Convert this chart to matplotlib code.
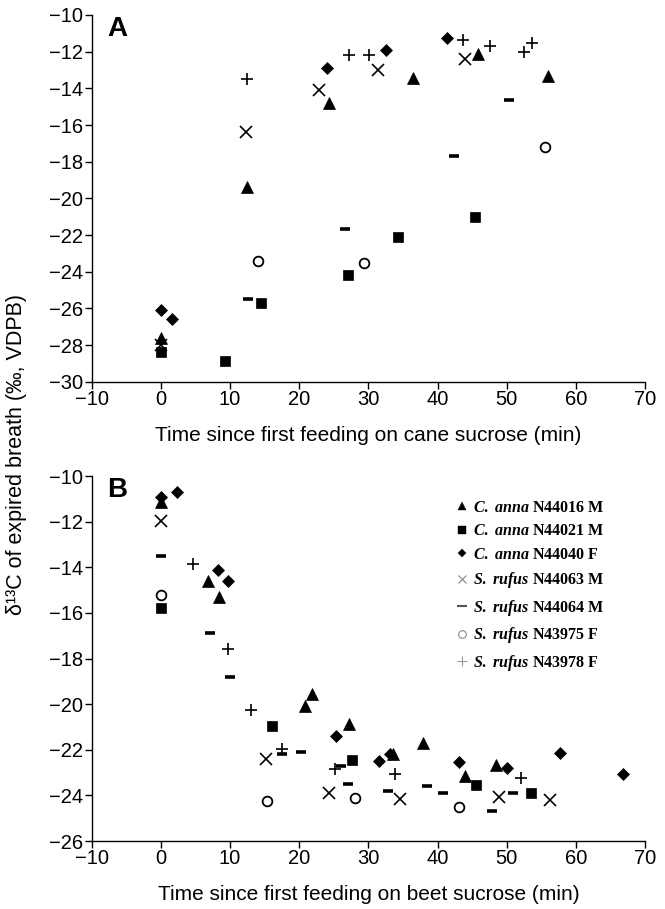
import matplotlib
matplotlib.use('Agg')
import matplotlib.pyplot as plt
from matplotlib.lines import Line2D

plt.rcParams['font.family'] = ['Liberation Sans', 'DejaVu Sans']
plt.rcParams['mathtext.fontset'] = 'custom'
plt.rcParams['mathtext.it'] = 'Liberation Serif:italic:bold'
plt.rcParams['mathtext.rm'] = 'Liberation Serif:bold'

# individuals (legend order)
birds = ['C. anna N44016 M', 'C. anna N44021 M', 'C. anna N44040 F',
         'S. rufus N44063 M', 'S. rufus N44064 M', 'S. rufus N43975 F',
         'S. rufus N43978 F']

# Panel A: cane sucrose
a_x = [
    [0, 12.5, 24.3, 36.5, 45.8, 55.9],
    [0, 9.2, 14.4, 27.0, 34.3, 45.4],
    [0, 1.6, 24.0, 32.5, 41.3],
    [0, 12.3, 22.8, 31.4, 44.0],
    [12.6, 26.6, 42.4, 50.4],
    [14.0, 29.4, 55.5],
    [12.5, 27.2, 30.1, 43.7, 47.6, 52.5, 53.6],
]
a_y = [
    [-27.6, -19.4, -14.8, -13.45, -12.1, -13.3],
    [-28.35, -28.85, -25.7, -24.2, -22.1, -21.0],
    [-26.1, -26.6, -12.9, -11.9, -11.25],
    [-28.0, -16.4, -14.1, -13.0, -12.4],
    [-25.5, -21.65, -17.7, -14.65],
    [-23.4, -23.5, -17.2],
    [-13.5, -12.2, -12.2, -11.35, -11.7, -12.0, -11.5],
]

# Panel B: beet sucrose
b_x = [
    [0, 6.75, 8.35, 20.9, 21.9, 27.2, 33.6, 37.9, 44.0, 48.5],
    [0, 16.0, 27.6, 45.6, 53.5],
    [0, 2.3, 8.25, 9.75, 25.3, 31.6, 33.1, 43.1, 50.1, 57.7, 66.8],
    [0, 15.2, 24.3, 34.6, 48.9, 56.3],
    [0, 7.1, 10.0, 17.5, 20.2, 26.0, 27.1, 32.8, 38.5, 40.8, 47.9, 50.9],
    [0, 15.3, 28.0, 43.1],
    [4.7, 9.75, 13.0, 17.5, 25.2, 33.8, 52.1],
]
b_y = [
    [-11.15, -14.6, -15.3, -20.1, -19.55, -20.85, -22.2, -21.7, -23.15, -22.65],
    [-15.8, -20.95, -22.45, -23.55, -23.9],
    [-10.9, -10.7, -14.1, -14.6, -21.4, -22.5, -22.2, -22.55, -22.8, -22.15, -23.05],
    [-11.95, -22.4, -23.9, -24.15, -24.05, -24.2],
    [-13.5, -16.9, -18.8, -22.2, -22.1, -22.7, -23.5, -23.8, -23.6, -23.9, -24.7, -23.9],
    [-15.2, -24.25, -24.1, -24.5],
    [-13.85, -17.6, -20.25, -21.95, -22.85, -23.05, -23.25],
]

# marker styles per individual
styles = [
    dict(marker='^', ms=8, mfc='black', mec='black', mew=0.5),
    dict(marker='s', ms=7.5, mfc='black', mec='black', mew=0.5),
    dict(marker='D', ms=6, mfc='black', mec='black', mew=0.5),
    dict(marker='x', ms=8, mfc='none', mec='black', mew=1.2),
    dict(marker='_', ms=7.5, mfc='none', mec='black', mew=2.6),
    dict(marker='o', ms=7, mfc='none', mec='black', mew=1.3),
    dict(marker='+', ms=9, mfc='none', mec='black', mew=1.2),
]
leg_styles = [
    dict(marker='^', ms=6, mfc='black', mec='black', mew=0.3),
    dict(marker='s', ms=5.5, mfc='black', mec='black', mew=0.3),
    dict(marker='D', ms=4.5, mfc='black', mec='black', mew=0.3),
    dict(marker='x', ms=6, mfc='none', mec='#888888', mew=0.8),
    dict(marker='_', ms=7, mfc='none', mec='#555555', mew=1.5),
    dict(marker='o', ms=5.5, mfc='none', mec='#888888', mew=0.8),
    dict(marker='+', ms=6.5, mfc='none', mec='#999999', mew=0.8),
]

fig = plt.figure(figsize=(6.65, 9.09), dpi=100)
axA = fig.add_axes([0.138, 0.580, 0.832, 0.4035])
axB = fig.add_axes([0.138, 0.0748, 0.832, 0.4015])


def style_axes(ax, ylim, yticks, xlabel):
    ax.set_xlim(-10, 70)
    ax.set_xticks(range(-10, 71, 10))
    ax.set_ylim(*ylim)
    ax.set_yticks(yticks)
    for s in ['top', 'right']:
        ax.spines[s].set_visible(False)
    ax.spines['left'].set_linewidth(1.0)
    ax.spines['bottom'].set_linewidth(1.0)
    ax.tick_params(direction='out', length=5, width=1, labelsize=14.5, pad=1)
    ax.set_xlabel(xlabel, fontsize=15, labelpad=12)


for i in range(len(birds)):
    axA.plot(a_x[i], a_y[i], ls='none', **styles[i])
    axB.plot(b_x[i], b_y[i], ls='none', **styles[i])

style_axes(axA, (-30, -10), range(-30, -9, 2),
           'Time since first feeding on cane sucrose (min)')
style_axes(axB, (-26, -10), range(-26, -9, 2),
           'Time since first feeding on beet sucrose (min)')

axA.text(0.028, 0.997, 'A', transform=axA.transAxes, fontsize=20,
         fontweight='bold', va='top')
axB.text(0.028, 0.997, 'B', transform=axB.transAxes, fontsize=20,
         fontweight='bold', va='top')

fig.text(0.025, 0.5, 'δ¹³C of expired breath (‰, VDPB)', rotation=90,
         va='center', ha='center', fontsize=15.5)

handles = [Line2D([], [], ls='none', **s) for s in leg_styles]
labels = []
for b in birds:
    sp, rest = b.split(' N')
    labels.append(r'$\it{' + sp.replace(' ', r'\ ') + r'}$ N' + rest)
axB.legend(handles, labels, loc='upper left', bbox_to_anchor=(0.66, 0.935),
           frameon=False, prop={'family': 'Liberation Serif', 'weight': 'bold',
                                'size': 11.5},
           handlelength=0.6, handletextpad=0.4, labelspacing=0.47,
           borderpad=0, borderaxespad=0)

fig.savefig('out.png', dpi=100)
